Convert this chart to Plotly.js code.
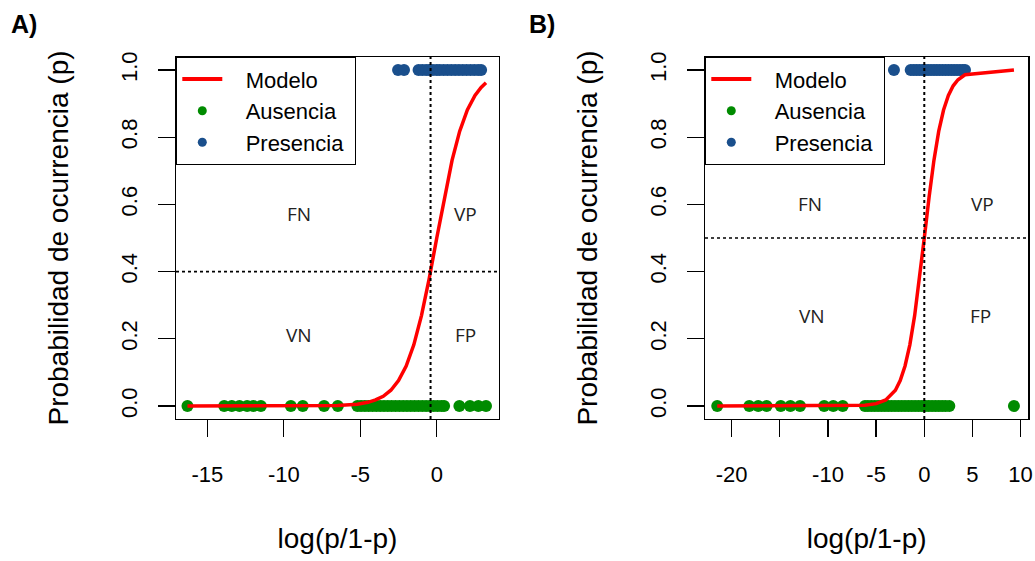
<!DOCTYPE html>
<html>
<head>
<meta charset="utf-8">
<script src="https://cdn.plot.ly/plotly-3.0.1.min.js"></script>
<style>html,body{margin:0;padding:0;background:#fff;}#chart{width:1035px;height:561px;}</style>
</head>
<body>
<div id="chart"></div>
<script>
// ---------- Panel A data ----------
const ausenciaA_x = [-16.3, -13.9, -13.4, -12.9, -12.4, -12.0, -11.5, -9.54, -8.76, -7.37, -6.47,
  -5.19, -4.95, -4.7, -4.45, -4.2, -3.95, -3.7, -3.45, -3.2, -2.95, -2.7, -2.45, -2.2, -1.95,
  -1.7, -1.45, -1.2, -0.95, -0.7, -0.45, -0.2, 0.05, 0.3, 0.48, 1.48, 2.17, 2.72, 3.22];
const presenciaA_x = [-2.53, -2.14, -1.19, -0.95, -0.7, -0.5, -0.25, 0.0, 0.2, 0.45, 0.7, 0.95,
  1.2, 1.45, 1.7, 1.95, 2.2, 2.45, 2.7, 2.9];
const modeloA_x = [-16.3, -13.9, -11.5, -9.54, -8.76, -7.37, -6.47, -5.19, -4.5, -4.0, -3.5, -3.0,
  -2.5, -2.0, -1.5, -1.0, -0.5, 0.0, 0.5, 1.0, 1.5, 2.0, 2.5, 2.9, 3.22];
const modeloA_p = [0.0, 0.0, 0.0, 0.0001, 0.0002, 0.0006, 0.0015, 0.0055, 0.011, 0.018, 0.029, 0.047,
  0.076, 0.119, 0.182, 0.269, 0.378, 0.5, 0.622, 0.731, 0.818, 0.881, 0.924, 0.948, 0.962];
const umbralA_p = 0.4;
const umbralA_x = -0.405;

// ---------- Panel B data ----------
const ausenciaB_x = [-21.5, -18.17, -17.24, -16.37, -14.9, -13.9, -12.9, -10.4, -9.45, -8.47,
  -6.16, -5.85, -5.5, -5.15, -4.8, -4.45, -4.1, -3.75, -3.4, -3.05, -2.7, -2.35, -2.0, -1.65,
  -1.3, -0.95, -0.6, -0.25, 0.1, 0.45, 0.8, 1.15, 1.5, 1.85, 2.2, 2.6, 9.31];
const presenciaB_x = [-3.15, -1.41, -1.1, -0.8, -0.5, -0.2, 0.1, 0.4, 0.7, 1.0, 1.3, 1.6, 1.9,
  2.2, 2.5, 2.8, 3.1, 3.4, 3.7, 4.0, 4.23];
const modeloB_x = [-21.5, -18.17, -14.9, -10.4, -8.47, -6.16, -5.0, -4.0, -3.0, -2.5, -2.0, -1.5,
  -1.0, -0.5, 0.0, 0.5, 1.0, 1.5, 2.0, 2.5, 3.0, 3.5, 4.23, 9.31];
const modeloB_p = [0.0, 0.0, 0.0, 0.0, 0.0002, 0.002, 0.007, 0.018, 0.047, 0.076, 0.119, 0.182,
  0.269, 0.378, 0.5, 0.622, 0.731, 0.818, 0.881, 0.924, 0.953, 0.971, 0.986, 0.9999];
const umbralB_p = 0.5;
const umbralB_x = 0.0;

// ---------- Tick labels ----------
const xTicksA = [-15, -10, -5, 0];
const xTickTextA = ["-15", "-10", "-5", "0"];
const xTicksB = [-20, -15, -10, -5, 0, 5, 10];
const xTickTextB = ["-20", "", "-10", "-5", "0", "5", "10"];
const yTicks = [0, 0.2, 0.4, 0.6, 0.8, 1.0];
const yTickText = ["0.0", "0.2", "0.4", "0.6", "0.8", "1.0"];

// Legend names
const legendNames = ["Modelo", "Ausencia", "Presencia"];

// Quadrant labels
const quadLabels = ["FN", "VP", "VN", "FP"];
const quadA_x = [-9.0, 1.85, -9.0, 1.9];
const quadA_y = [0.57, 0.57, 0.21, 0.21];
const quadB_x = [-11.85, 6.0, -11.65, 5.8];
const quadB_y = [0.6, 0.6, 0.268, 0.268];

const GREEN = "#008B00";
const BLUE = "#1A4F8C";
const RED = "#FF0000";
const FONT = "Liberation Sans, Arial, sans-serif";
const NB = "\u00A0";

const ones = a => a.map(() => 1);
const zeros = a => a.map(() => 0);

function panelTraces(ax, ay, leg, aX, pX, mX, mP) {
  return [
    {x: aX, y: zeros(aX), xaxis: ax, yaxis: ay, type: "scatter", mode: "markers",
     marker: {color: GREEN, size: 12}, showlegend: false},
    {x: pX, y: ones(pX), xaxis: ax, yaxis: ay, type: "scatter", mode: "markers",
     marker: {color: BLUE, size: 12}, showlegend: false},
    {x: mX, y: mP, xaxis: ax, yaxis: ay, type: "scatter", mode: "lines",
     line: {color: RED, width: 3.5}, showlegend: false},
    // legend entries
    {x: [null], y: [null], xaxis: ax, yaxis: ay, type: "scatter", mode: "lines",
     name: NB + NB + NB + legendNames[0],
     line: {color: RED, width: 4}, legend: leg, legendrank: 1},
    {x: [null], y: [null], xaxis: ax, yaxis: ay, type: "scatter", mode: "markers",
     name: NB + NB + NB + legendNames[1],
     marker: {color: GREEN, size: 9}, legend: leg, legendrank: 2},
    {x: [null], y: [null], xaxis: ax, yaxis: ay, type: "scatter", mode: "markers",
     name: NB + NB + NB + legendNames[2] + NB,
     marker: {color: BLUE, size: 9}, legend: leg, legendrank: 3}
  ];
}

const data = [].concat(
  panelTraces("x", "y", "legend", ausenciaA_x, presenciaA_x, modeloA_x, modeloA_p),
  panelTraces("x2", "y2", "legend2", ausenciaB_x, presenciaB_x, modeloB_x, modeloB_p)
);

const yDomain = [1 - 419 / 561, 1 - 57 / 561];

function xAxis(domain, range, tv, tt, anchor) {
  return {
    domain: domain, range: range, anchor: anchor,
    tickmode: "array", tickvals: tv, ticktext: tt,
    ticks: "outside", ticklen: 17, tickwidth: 1.3, tickcolor: "#000",
    showline: true, mirror: true, linecolor: "#000", linewidth: 1.3,
    showgrid: false, zeroline: false,
    tickfont: {family: FONT, size: 22, color: "#000"},
    ticklabelstandoff: 18,
    title: {text: "log(p/1-p)", font: {family: FONT, size: 28, color: "#000"}, standoff: 42}
  };
}
function yAxis(anchor) {
  return {
    domain: yDomain, range: [-0.0387, 1.0387], anchor: anchor,
    tickmode: "array", tickvals: yTicks, ticktext: yTickText, tickangle: -90,
    ticks: "outside", ticklen: 17, tickwidth: 1.3, tickcolor: "#000",
    showline: true, mirror: true, linecolor: "#000", linewidth: 1.3,
    showgrid: false, zeroline: false,
    tickfont: {family: FONT, size: 22, color: "#000"},
    ticklabelstandoff: 12,
    title: {text: "Probabilidad de ocurrencia (p)", font: {family: FONT, size: 28, color: "#000"}, standoff: 40}
  };
}

function dotted(xref, yref, xv, yv) {
  return [
    {type: "line", xref: xref, yref: yref + " domain", x0: xv, x1: xv, y0: 0, y1: 1,
     line: {color: "#000", width: 2, dash: "dot"}, layer: "above"},
    {type: "line", xref: xref + " domain", yref: yref, x0: 0, x1: 1, y0: yv, y1: yv,
     line: {color: "#000", width: 1.6, dash: "dot"}, layer: "above"}
  ];
}

function quadAnn(xref, yref, xs, ys) {
  return quadLabels.map((t, i) => ({
    xref: xref, yref: yref, x: xs[i], y: ys[i], text: t, showarrow: false,
    font: {family: "Open Sans, Noto Sans, sans-serif", size: 19, color: "#222"},
    xanchor: "center", yanchor: "middle"
  }));
}

const legendBase = {
  y: yDomain[1], yanchor: "top", xanchor: "left",
  bgcolor: "#fff", bordercolor: "#000", borderwidth: 1.3,
  font: {family: FONT, size: 22, color: "#000"},
  itemwidth: 40, traceorder: "normal", tracegroupgap: 0
};

const layout = {
  width: 1035, height: 561,
  margin: {l: 0, r: 0, t: 0, b: 0},
  paper_bgcolor: "#fff", plot_bgcolor: "#fff",
  font: {family: FONT, color: "#000"},
  xaxis: xAxis([176 / 1035, 499 / 1035], [-17.05, 4.07], xTicksA, xTickTextA, "y"),
  yaxis: yAxis("x"),
  xaxis2: xAxis([705 / 1035, 1028.3 / 1035], [-22.77, 10.8], xTicksB, xTickTextB, "y2"),
  yaxis2: yAxis("x2"),
  legend: Object.assign({x: 176 / 1035}, legendBase),
  legend2: Object.assign({x: 705 / 1035}, legendBase),
  shapes: [].concat(dotted("x", "y", umbralA_x, umbralA_p), dotted("x2", "y2", umbralB_x, umbralB_p)),
  annotations: [].concat(
    quadAnn("x", "y", quadA_x, quadA_y),
    quadAnn("x2", "y2", quadB_x, quadB_y),
    [
      {xref: "paper", yref: "paper", x: 23.5 / 1035, y: 1 - 24 / 561, text: "<b>A)</b>", showarrow: false,
       font: {family: FONT, size: 25, color: "#000"}, xanchor: "center", yanchor: "middle"},
      {xref: "paper", yref: "paper", x: 542 / 1035, y: 1 - 24 / 561, text: "<b>B)</b>", showarrow: false,
       font: {family: FONT, size: 25, color: "#000"}, xanchor: "center", yanchor: "middle"}
    ]
  )
};

Plotly.newPlot("chart", data, layout, {staticPlot: true, displayModeBar: false});
</script>
</body>
</html>
